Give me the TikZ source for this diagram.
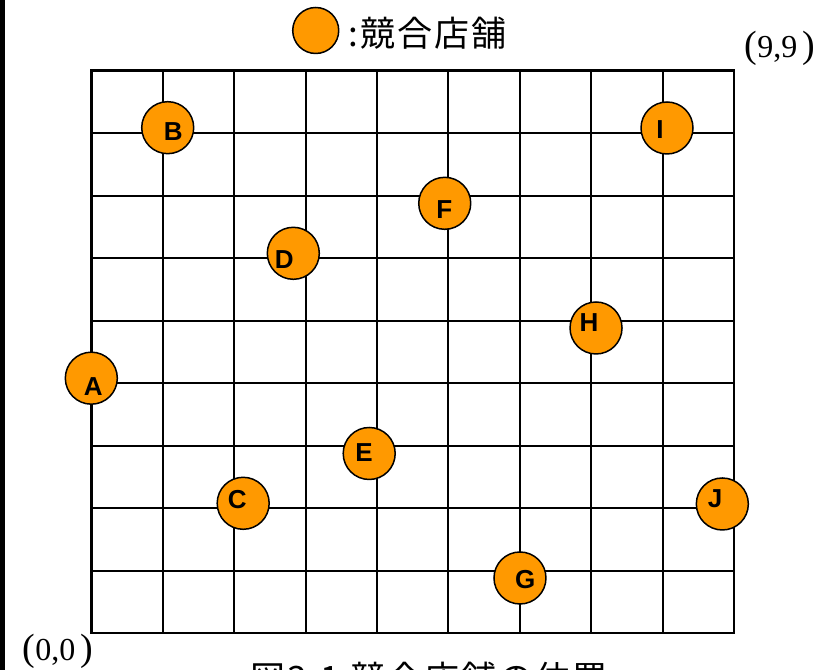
\documentclass[tikz,border=0pt]{standalone}
\usepackage{fontspec}
\setmainfont{Liberation Serif}
\setsansfont{Liberation Sans}
\newfontfamily\jpfont[LetterSpace=6]{Noto Sans CJK JP}
\usepackage{tikz}
\usetikzlibrary{calc}
\definecolor{shoporange}{RGB}{255,153,0}

\begin{document}
\begin{tikzpicture}[
  x=71.4pt, y=62.5pt,
  gridline/.style={line width=2pt},
  shop/.style={circle, draw, line width=1.5pt, fill=shoporange,
               minimum size=52pt, inner sep=0pt},
  shopname/.style={font=\sffamily\bfseries\fontsize{26}{26}\selectfont,
                   inner sep=0pt},
  corner/.style={font=\fontsize{32}{32}\selectfont, inner sep=0pt},
  jptext/.style={font=\jpfont\fontsize{35}{35}\selectfont, inner sep=0pt}
]

%% Frame
\useasboundingbox (-1.279,-0.589) rectangle (10.360,10.131);
\clip (-1.279,-0.589) rectangle (10.360,10.131);
\fill (-1.279,-0.589) rectangle (-1.209,10.131);

%% Grid
\draw[gridline] (0,0) grid[step={(1,1)}] (9,9);
\draw[line width=2.4pt] (0,0) rectangle (9,9);

%% Legend
\node[shop, minimum size=46pt] (legend) at (3.143,9.643) {};
\node[jptext, anchor=west] (legendtext) at (3.60,9.60) {:競合店舗};

%% Corners
\node[corner] (corner99) at (9.646,9.363)
    {{\fontsize{38}{38}\selectfont(}9,9\,{\fontsize{38}{38}\selectfont)}};
\node[corner] (corner00) at (-0.466,-0.285)
    {{\fontsize{38}{38}\selectfont(}0,0\,{\fontsize{38}{38}\selectfont)}};

%% Competing shops
\node[shop] (shopA) at (0.000,4.080) {};
\node[shopname] (nameA) at (0.028,3.944) {A};
\node[shop] (shopB) at (1.070,8.088) {};
\node[shopname] (nameB) at (1.148,8.024) {B};
\node[shop] (shopC) at (2.127,2.078) {};
\node[shopname] (nameC) at (2.045,2.131) {C};
\node[shop] (shopD) at (2.829,6.078) {};
\node[shopname] (nameD) at (2.703,5.982) {D};
\node[shop] (shopE) at (3.892,2.875) {};
\node[shopname] (nameE) at (3.819,2.894) {E};
\node[shop] (shopF) at (4.950,6.878) {};
\node[shopname] (nameF) at (4.944,6.771) {F};
\node[shop] (shopG) at (6.004,0.883) {};
\node[shopname] (nameG) at (6.078,0.851) {G};
\node[shop] (shopH) at (7.069,4.883) {};
\node[shopname] (nameH) at (6.971,4.963) {H};
\node[shop] (shopI) at (8.063,8.083) {};
\node[shopname] (nameI) at (7.965,8.051) {I};
\node[shop] (shopJ) at (8.838,2.067) {};
\node[shopname] (nameJ) at (8.735,2.158) {J};

%% Caption (cut off at the bottom)
\node[jptext, anchor=base west] (caption) at (2.223,-0.93)
    {図3.1 競合店舗の位置};

\end{tikzpicture}
\end{document}
